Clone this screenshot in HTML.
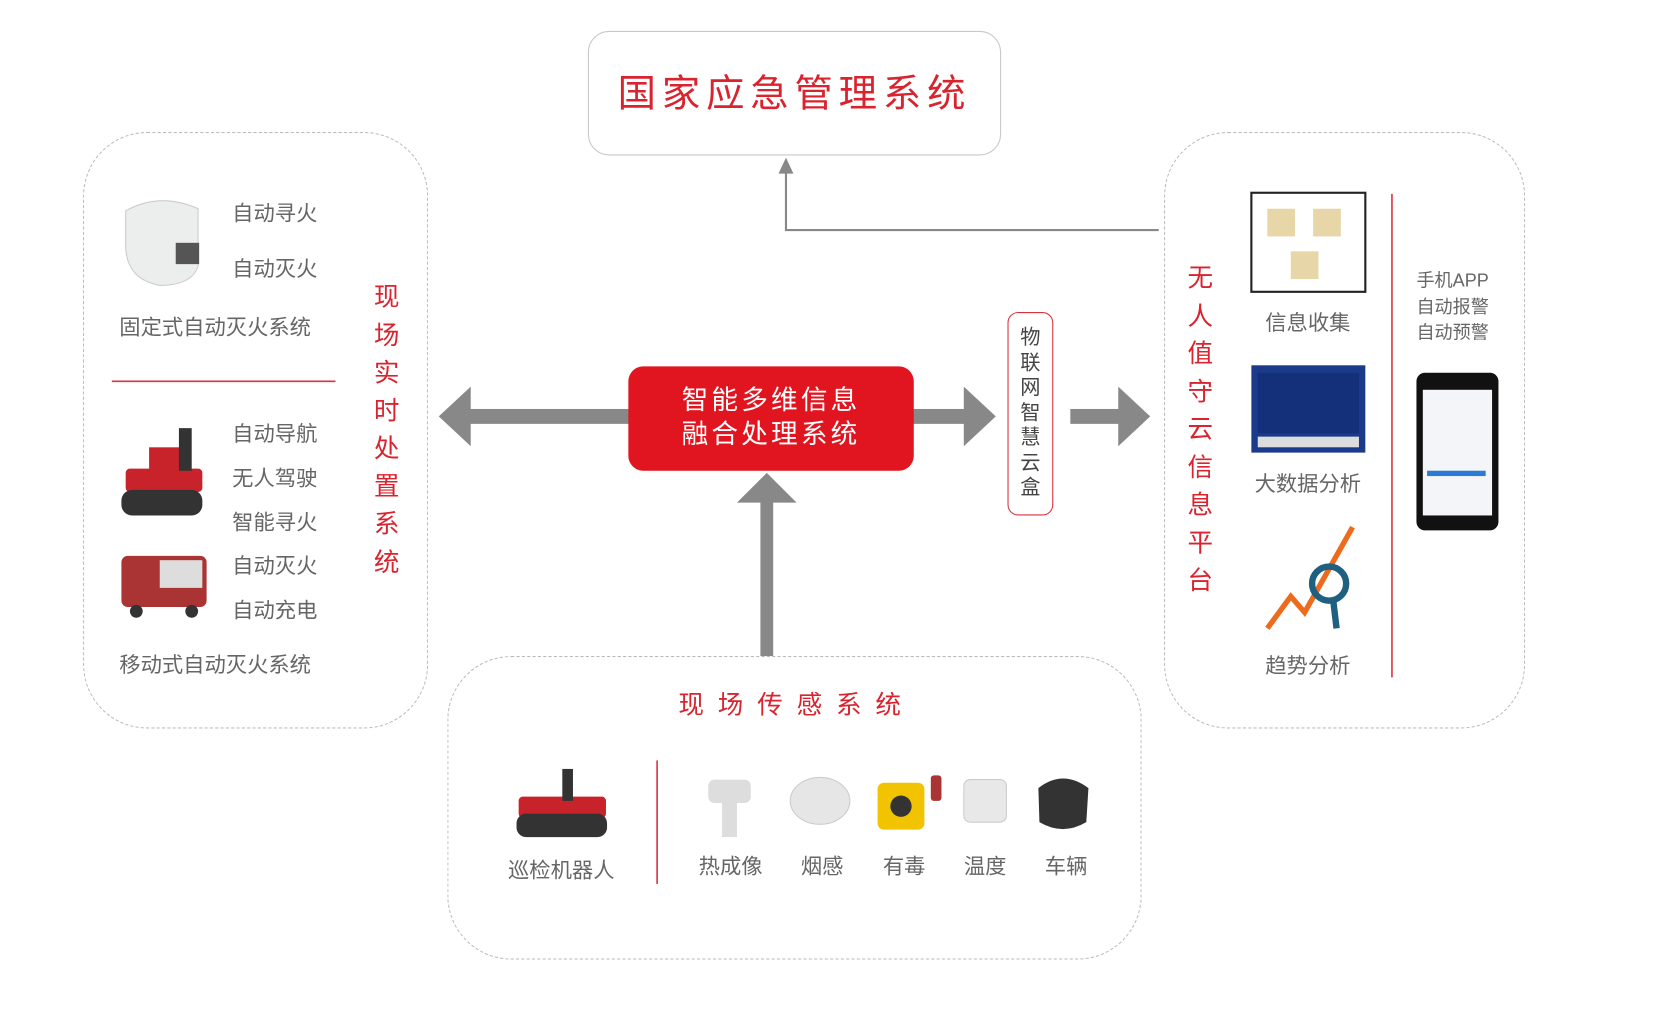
<!DOCTYPE html>
<html><head><meta charset="utf-8"><style>
html,body{margin:0;padding:0;background:#fff;}
body{width:1669px;height:1010px;overflow:hidden;position:relative;}
#w{position:absolute;left:0;top:0;width:1560px;height:944px;transform:scale(1.065);transform-origin:0 0;font-family:"Liberation Sans","Noto Sans CJK SC",sans-serif;}
.a{position:absolute;white-space:nowrap;}
.g{color:#666;font-size:20px;line-height:20px;}
.r{color:#d9232e;}
.dash{position:absolute;border:1.3px dashed #bbb;border-radius:60px;box-sizing:border-box;}
.vt{position:absolute;width:30px;text-align:center;line-height:35.5px;font-size:24px;color:#d9232e;}
.c{transform:translateX(-50%);}
</style></head><body><div id="w">

<div class="a" style="left:552px;top:29px;width:388px;height:117px;border:1.3px solid #c8c8c8;border-radius:20px;box-sizing:border-box;"></div>
<div class="a r" style="left:552px;width:388px;top:66px;text-align:center;font-size:36px;letter-spacing:5.5px;line-height:44px;">国家应急管理系统</div>

<div class="dash" style="left:78px;top:124px;width:324px;height:560px;"></div>
<div class="dash" style="left:420px;top:616px;width:652px;height:285px;"></div>
<div class="dash" style="left:1093px;top:124px;width:339px;height:560px;"></div>

<svg class="a" style="left:0;top:0" width="1560" height="944">
<polyline points="1088,216 738,216 738,160" fill="none" stroke="#888" stroke-width="2"/>
<polygon points="738,148 731,163 745,163" fill="#888"/>
<rect x="440" y="384" width="152" height="14" fill="#888"/>
<polygon points="412,391 442,363 442,419" fill="#888"/>
<rect x="856" y="384" width="52" height="14" fill="#888"/>
<polygon points="935,391 905,363 905,419" fill="#888"/>
<rect x="1005" y="384" width="50" height="14" fill="#888"/>
<polygon points="1080,391 1050,363 1050,419" fill="#888"/>
<rect x="714" y="470" width="12" height="146" fill="#888"/>
<polygon points="720,444 692,472 748,472" fill="#888"/>
<line x1="105" y1="358" x2="315" y2="358" stroke="#d9323c" stroke-width="1.5"/>
<line x1="1307" y1="182" x2="1307" y2="636" stroke="#d9323c" stroke-width="1.5"/>
<line x1="617" y1="714" x2="617" y2="830" stroke="#d9323c" stroke-width="1.5"/>

<path d="M118,198 Q150,180 186,196 L186,250 Q180,268 150,268 Q118,262 118,230 Z" fill="#eceeee" stroke="#ccc"/>
<rect x="165" y="228" width="22" height="20" fill="#555"/>
<g fill="#c8232a"><rect x="118" y="440" width="72" height="22" rx="4"/><rect x="140" y="420" width="30" height="22"/></g>
<rect x="168" y="402" width="12" height="40" fill="#333"/>
<rect x="114" y="460" width="76" height="24" rx="10" fill="#333"/>
<rect x="114" y="522" width="80" height="48" rx="6" fill="#a33"/>
<rect x="150" y="526" width="40" height="26" fill="#ddd"/>
<circle cx="128" cy="574" r="6" fill="#333"/><circle cx="180" cy="574" r="6" fill="#333"/>

<rect x="1175" y="181" width="107" height="93" fill="#fff" stroke="#222" stroke-width="2"/>
<rect x="1190" y="196" width="26" height="26" fill="#e6d6a8"/><rect x="1233" y="196" width="26" height="26" fill="#e6d6a8"/><rect x="1212" y="236" width="26" height="26" fill="#e6d6a8"/>
<rect x="1175" y="343" width="107" height="82" fill="#1b3b8a"/>
<rect x="1181" y="350" width="95" height="57" fill="#14307a"/>
<rect x="1181" y="410" width="95" height="10" fill="#ddd"/>
<polyline points="1190,590 1212,560 1225,575 1270,495" fill="none" stroke="#ee6a1c" stroke-width="5"/>
<circle cx="1248" cy="548" r="16" fill="none" stroke="#1f5f80" stroke-width="6"/>
<line x1="1252" y1="565" x2="1255" y2="590" stroke="#1f5f80" stroke-width="6"/>
<rect x="1330" y="350" width="77" height="148" rx="8" fill="#111"/>
<rect x="1336" y="366" width="65" height="118" fill="#f3f5f8"/>
<rect x="1340" y="442" width="55" height="5" fill="#2b7bd6"/>

<rect x="487" y="748" width="82" height="20" rx="4" fill="#c8232a"/>
<rect x="485" y="764" width="85" height="22" rx="9" fill="#333"/>
<rect x="528" y="722" width="10" height="30" fill="#333"/>
<rect x="665" y="732" width="40" height="22" rx="6" fill="#ddd"/><rect x="678" y="752" width="14" height="34" fill="#ddd"/>
<ellipse cx="770" cy="752" rx="28" ry="22" fill="#e6e6e6" stroke="#ccc"/>
<rect x="824" y="735" width="44" height="44" rx="6" fill="#f2c300"/><circle cx="846" cy="757" r="10" fill="#333"/>
<rect x="874" y="728" width="10" height="24" rx="3" fill="#a33"/>
<rect x="905" y="732" width="40" height="40" rx="6" fill="#e8e8e8" stroke="#ccc"/>
<path d="M975,740 Q998,722 1022,740 L1020,772 Q998,785 976,772 Z" fill="#333"/>
</svg>

<div class="a" style="left:590px;top:344px;width:268px;height:98px;background:#e0151f;border-radius:14px;"></div>
<div class="a" style="left:590px;top:360px;width:268px;text-align:center;color:#fff;font-size:25px;line-height:32px;letter-spacing:3px;">智能多维信息<br>融合处理系统</div>

<div class="a" style="left:946px;top:293px;width:43px;height:191px;border:1.5px solid #d9323c;border-radius:10px;box-sizing:border-box;"></div>
<div class="a" style="left:946px;top:306px;width:43px;text-align:center;font-size:19px;line-height:23.5px;color:#444;white-space:normal;">物<br>联<br>网<br>智<br>慧<br>云<br>盒</div>

<div class="vt" style="left:348px;top:262px;">现<br>场<br>实<br>时<br>处<br>置<br>系<br>统</div>
<div class="vt" style="left:1112px;top:244px;">无<br>人<br>值<br>守<br>云<br>信<br>息<br>平<br>台</div>

<div class="a g" style="left:218px;top:191px;">自动寻火</div>
<div class="a g" style="left:218px;top:243px;">自动灭火</div>
<div class="a g" style="left:112px;top:298px;">固定式自动灭火系统</div>
<div class="a g" style="left:218px;top:398px;">自动导航</div>
<div class="a g" style="left:218px;top:440px;">无人驾驶</div>
<div class="a g" style="left:218px;top:481px;">智能寻火</div>
<div class="a g" style="left:218px;top:522px;">自动灭火</div>
<div class="a g" style="left:218px;top:564px;">自动充电</div>
<div class="a g" style="left:112px;top:615px;">移动式自动灭火系统</div>

<div class="a g c" style="left:1228px;top:294px;">信息收集</div>
<div class="a g c" style="left:1228px;top:445px;">大数据分析</div>
<div class="a g c" style="left:1228px;top:616px;">趋势分析</div>
<div class="a" style="left:1330px;top:252px;color:#666;font-size:17px;line-height:24.5px;">手机APP<br>自动报警<br>自动预警</div>

<div class="a r c" style="left:748px;top:650px;font-size:24px;line-height:26px;letter-spacing:13px;">现场传感系统</div>
<div class="a g c" style="left:527px;top:808px;">巡检机器人</div>
<div class="a g c" style="left:686px;top:804px;">热成像</div>
<div class="a g c" style="left:772px;top:804px;">烟感</div>
<div class="a g c" style="left:849px;top:804px;">有毒</div>
<div class="a g c" style="left:925px;top:804px;">温度</div>
<div class="a g c" style="left:1001px;top:804px;">车辆</div>

</div></body></html>
